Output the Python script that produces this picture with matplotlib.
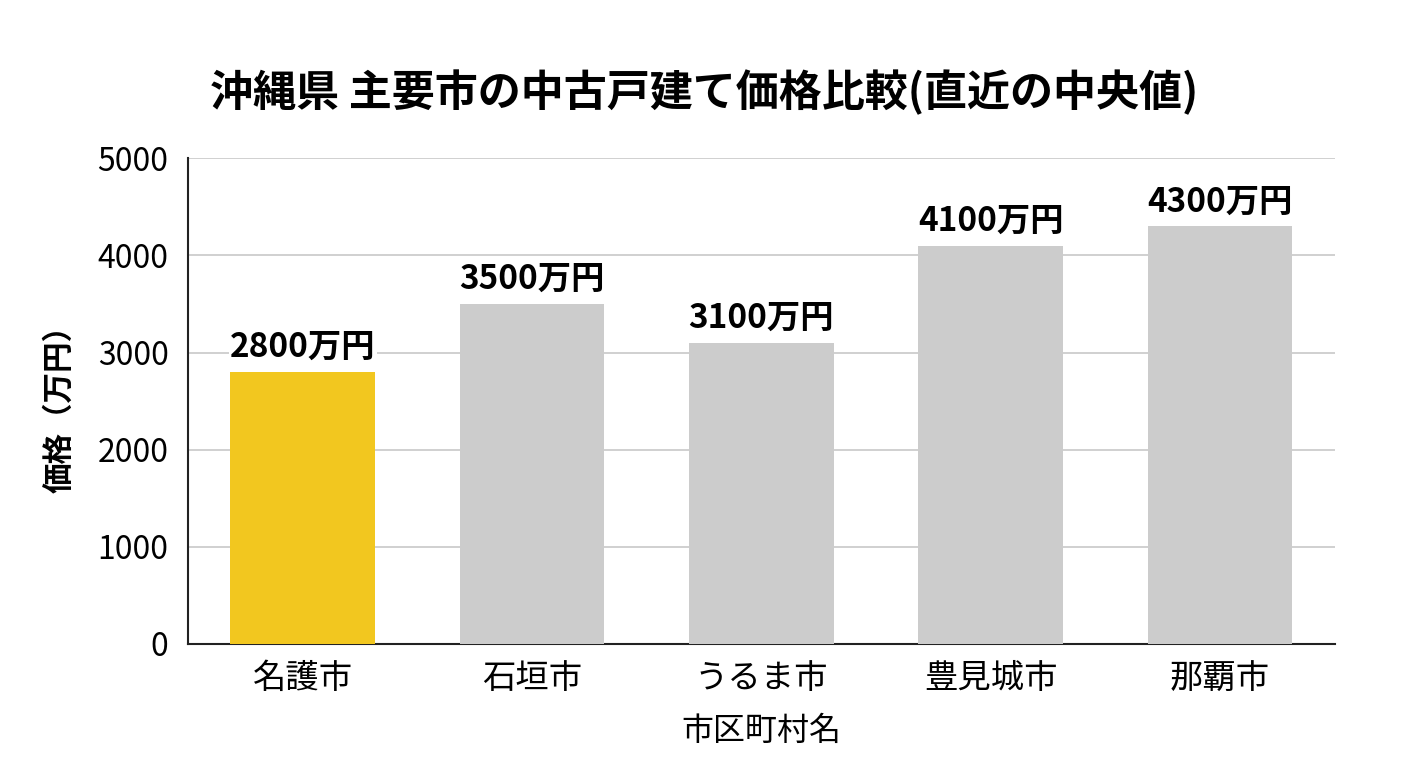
import matplotlib.pyplot as plt

plt.rcParams['font.family'] = ['Noto Sans CJK JP', 'DejaVu Sans']

# data
cities = ['名護市', '石垣市', 'うるま市', '豊見城市', '那覇市']
prices = [2800, 3500, 3100, 4100, 4300]
colors = ['#F2C71F', '#CCCCCC', '#CCCCCC', '#CCCCCC', '#CCCCCC']
yticks = [0, 1000, 2000, 3000, 4000, 5000]

fig = plt.figure(figsize=(14.08, 7.68), dpi=100)
ax = fig.add_axes([0.1335, 0.1615, 0.8145, 0.6325])

x = range(len(cities))
ax.bar(x, prices, width=0.63, color=colors, zorder=3)

# value labels on top of bars
for i, v in enumerate(prices):
    ax.text(i, v + 80, f'{v}万円', ha='center', va='bottom', fontsize=24,
            fontweight='bold', zorder=4,
            bbox=dict(facecolor='white', edgecolor='none', pad=1))

ax.set_xlim(-0.5, 4.5)
ax.set_ylim(0, 5000)
ax.set_yticks(yticks)
ax.set_xticks(list(x))
ax.set_xticklabels(cities, fontsize=24)
ax.tick_params(axis='y', labelsize=23, length=0, pad=14)
ax.tick_params(axis='x', length=0, pad=12)
ax.grid(axis='y', color='#C8C8C8', linewidth=1.2, zorder=0)

for s in ['top', 'right']:
    ax.spines[s].set_visible(False)
ax.spines['left'].set_color('#222222')
ax.spines['bottom'].set_color('#222222')
ax.spines['left'].set_linewidth(1.5)
ax.spines['bottom'].set_linewidth(1.5)

ax.set_xlabel('市区町村名', fontsize=23, labelpad=14)
ax.set_ylabel('価格（万円）', fontsize=22, fontweight='bold', labelpad=16)

fig.text(0.5, 0.88, '沖縄県 主要市の中古戸建て価格比較(直近の中央値)',
         ha='center', va='center', fontsize=31, fontweight='bold')

fig.savefig('out.png', dpi=100)
